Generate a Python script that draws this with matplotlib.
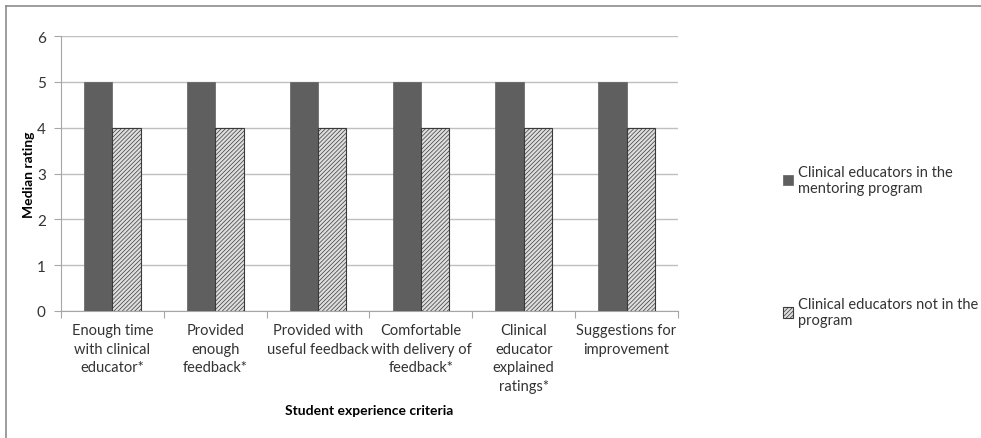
import numpy as np
import matplotlib.pyplot as plt
from matplotlib.lines import Line2D

plt.rcParams['font.family'] = ['Lato', 'DejaVu Sans']
plt.rcParams['hatch.linewidth'] = 0.5

categories = ["Enough time\nwith clinical\neducator*", "Provided\nenough\nfeedback*",
              "Provided with\nuseful feedback", "Comfortable\nwith delivery of\nfeedback*",
              "Clinical\neducator\nexplained\nratings*", "Suggestions for\nimprovement"]
mentoring = [5, 5, 5, 5, 5, 5]
not_mentoring = [4, 4, 4, 4, 4, 4]
series_names = ["Clinical educators in the\nmentoring program",
                "Clinical educators not in the\nprogram"]

fig = plt.figure(figsize=(9.81, 4.39), dpi=100)
ax = fig.add_axes([0.0622, 0.2893, 0.6289, 0.6264])

x = np.arange(len(categories))
w = 0.275
b1 = ax.bar(x - w / 2, mentoring, w, color='#5f5f5f', edgecolor='#5f5f5f', linewidth=0.5, zorder=3)
b2 = ax.bar(x + w / 2, not_mentoring, w, color='#dedede', edgecolor='#3a3a3a',
            hatch='////////', linewidth=0.8, zorder=3)

ax.set_xlim(-0.5, len(categories) - 0.5)
ax.set_ylim(0, 6)
ax.set_yticks(range(0, 7))
ax.yaxis.grid(True, color='#bfbfbf', linewidth=1.0, zorder=0)
ax.set_axisbelow(True)
for s in ['top', 'right']:
    ax.spines[s].set_visible(False)
for s in ['left', 'bottom']:
    ax.spines[s].set_color('#a6a6a6')
ax.set_xticks(np.arange(-0.5, len(categories), 1.0))
ax.set_xticklabels([])
ax.set_xticks(x, minor=True)
ax.set_xticklabels(categories, minor=True, fontsize=10.5, color='#333333', linespacing=1.4)
ax.tick_params(axis='x', which='minor', length=0, pad=9)
ax.tick_params(axis='x', which='major', length=5, color='#a6a6a6')
ax.tick_params(axis='y', length=5, color='#a6a6a6', labelsize=11, labelcolor='#333333', pad=6)

ax.set_ylabel("Median rating", fontsize=10, fontweight='bold')
ax.yaxis.set_label_coords(-0.042, 0.5)
fig.text(0.3766, 1 - 411 / 439, "Student experience criteria", ha='center', va='center',
         fontsize=10, fontweight='bold')

# legend entries placed like the original
fig.legend([b1], [series_names[0]], loc='center left',
           bbox_to_anchor=(0.785, 1 - 181 / 439), frameon=False,
           fontsize=10.5, handlelength=0.7, handleheight=0.7, handletextpad=0.3,
           labelcolor='#333333', labelspacing=0.5)
fig.legend([b2], [series_names[1]], loc='center left',
           bbox_to_anchor=(0.785, 1 - 313 / 439), frameon=False,
           fontsize=10.5, handlelength=0.7, handleheight=0.7, handletextpad=0.3,
           labelcolor='#333333')

# outer frame lines (top and left only visible)
fig.add_artist(Line2D([6 / 981, 1], [1 - 6.5 / 439] * 2, color='#8c8c8c', linewidth=1.2))
fig.add_artist(Line2D([6 / 981] * 2, [0, 1 - 6.5 / 439], color='#8c8c8c', linewidth=1.2))

fig.savefig("out.png", dpi=100)
